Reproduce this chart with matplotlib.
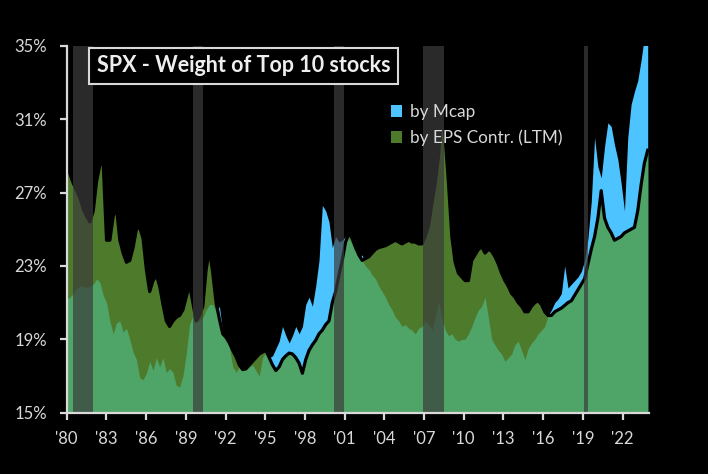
import numpy as np
import matplotlib
matplotlib.use("Agg")
import matplotlib.pyplot as plt
from matplotlib.patches import Patch

plt.rcParams['font.family'] = ['Lato', 'DejaVu Sans']

# quarterly observations, 1980 -> end of 2023
dates = np.linspace(1980.0, 2023.9, 176)

eps_weight = [
    28.7, 28.0, 27.5, 27.1, 26.7, 26.1, 25.7, 25.4,   # 1980-81
    26.0, 27.6, 28.5, 28.6, 24.4, 24.4, 25.7, 26.2,   # 1982-83
    24.4, 23.7, 23.2, 23.3, 24.0, 25.0, 25.1, 24.5,   # 1984-85
    22.8, 21.6, 22.2, 22.5, 21.9, 20.9, 20.0, 19.7,   # 1986-87
    20.0, 20.2, 20.3, 20.6, 21.3, 22.0, 21.0, 20.0,   # 1988-89
    20.3, 20.8, 22.8, 23.9, 22.6, 21.0, 20.1, 19.3,   # 1990-91
    19.1, 18.8, 18.4, 18.05, 17.6, 17.35, 17.4, 17.6, # 1992-93
    17.8, 18.0, 18.2, 18.3, 18.4, 18.0, 17.6, 17.3,   # 1994-95
    17.5, 17.9, 18.1, 18.25, 18.2, 18.0, 17.7, 17.15, # 1996-97
    17.9, 18.4, 18.7, 18.95, 19.3, 19.5, 19.8, 20.0,  # 1998-99
    21.0, 21.6, 22.5, 23.3, 24.3, 24.8, 24.5, 24.0,   # 2000-01
    23.6, 23.3, 23.4, 23.5, 23.7, 23.9, 24.0, 24.05,  # 2002-03
    24.1, 24.2, 24.3, 24.4, 24.3, 24.2, 24.3, 24.4,   # 2004-05
    24.3, 24.3, 24.2, 24.2, 24.6, 25.2, 26.4, 27.5,   # 2006-07
    29.0, 31.3, 30.0, 27.5, 24.6, 23.2, 22.6, 22.4,   # 2008-09
    22.2, 22.2, 23.3, 23.6, 23.9, 24.05, 23.7, 23.9,  # 2010-11
    23.8, 23.5, 23.1, 22.6, 22.2, 21.9, 21.5, 21.3,   # 2012-13
    21.0, 20.8, 20.5, 20.5, 20.8, 21.0, 21.1, 20.9,   # 2014-15
    20.5, 20.3, 20.3, 20.5, 20.6, 20.7, 20.85, 21.0,  # 2016-17
    21.1, 21.4, 21.7, 22.0, 22.3, 23.1, 23.9, 24.6,   # 2018-19
    25.6, 27.1, 25.6, 25.1, 24.8, 24.4, 24.5, 24.6,   # 2020-21
    24.8, 24.9, 25.0, 25.1, 26.0, 27.4, 28.6, 29.3,   # 2022-23
]

mcap_weight = [
    21.2, 21.3, 21.5, 21.8, 21.9, 21.9, 21.8, 21.9,   # 1980-81
    22.0, 22.3, 22.1, 21.4, 21.0, 20.0, 19.3, 19.9,   # 1982-83
    20.0, 19.4, 19.6, 19.0, 18.3, 17.9, 16.9, 16.8,   # 1984-85
    17.15, 17.8, 17.3, 18.0, 17.5, 18.0, 17.2, 17.4,  # 1986-87
    17.2, 16.5, 16.4, 17.0, 18.2, 19.8, 20.3, 20.0,   # 1988-89
    20.0, 20.2, 20.6, 20.9, 20.9, 20.5, 20.8, 19.3,   # 1990-91
    19.0, 18.6, 17.5, 17.2, 17.5, 17.3, 17.3, 17.5,   # 1992-93
    17.6, 17.3, 17.0, 18.0, 18.3, 18.0, 18.1, 18.5,   # 1994-95
    18.9, 19.7, 19.2, 18.8, 19.2, 19.7, 19.3, 19.7,   # 1996-97
    20.9, 21.3, 20.8, 21.9, 23.3, 26.3, 26.0, 25.4,   # 1998-99
    24.0, 24.6, 24.3, 24.4, 24.6, 24.5, 24.2, 23.8,   # 2000-01
    23.4, 23.6, 23.0, 22.8, 22.5, 22.3, 21.9, 21.6,   # 2002-03
    21.3, 20.9, 20.6, 20.2, 20.0, 19.7, 19.8, 19.6,   # 2004-05
    19.5, 19.3, 19.6, 19.7, 20.0, 19.8, 19.5, 20.2,   # 2006-07
    21.0, 20.2, 19.5, 19.2, 19.3, 19.0, 18.9, 19.0,   # 2008-09
    19.0, 19.3, 19.7, 20.2, 20.6, 20.8, 21.3, 20.2,   # 2010-11
    19.0, 18.7, 18.4, 18.2, 17.8, 18.0, 18.2, 18.7,   # 2012-13
    18.9, 18.4, 17.9, 18.5, 18.8, 19.0, 19.3, 19.5,   # 2014-15
    19.7, 20.3, 20.6, 21.0, 21.2, 21.5, 23.0, 21.8,   # 2016-17
    22.0, 22.2, 22.4, 22.7, 23.3, 24.5, 26.5, 30.0,   # 2018-19
    28.4, 27.8, 29.5, 30.8, 30.6, 29.6, 28.8, 27.5,   # 2020-21
    26.0, 30.0, 31.8, 32.5, 33.1, 34.2, 35.5, 36.0,   # 2022-23
]

recessions = [(1980.5, 1981.97), (1989.52, 1990.28), (2000.23, 2000.96),
              (2006.95, 2008.54), (2019.12, 2019.38)]

x_ticks = list(range(1980, 2023, 3))
x_labels = ["'80", "'83", "'86", "'89", "'92", "'95", "'98", "'01", "'04",
            "'07", "'10", "'13", "'16", "'19", "'22"]
y_ticks = [15, 19, 23, 27, 31, 35]

title = "SPX - Weight of Top 10 stocks"
series_labels = ["by Mcap", "by EPS Contr. (LTM)"]

BLUE = "#4dc3ff"
OLIVE = "#4e7a2b"
LGREEN = "#4fa468"
TXT = "#d9d9d9"

eps = np.array(eps_weight)
mcap = np.array(mcap_weight)

fig = plt.figure(figsize=(7.08, 4.74), dpi=100, facecolor="black")
ax = fig.add_axes([0.0942, 0.1293, 0.8225, 0.7743])
ax.set_facecolor("black")

ax.fill_between(dates, 15, mcap, color=BLUE, lw=0, zorder=1)
ax.fill_between(dates, 15, eps, color=OLIVE, lw=0, zorder=2)
ax.fill_between(dates, 15, np.minimum(mcap, eps), color=LGREEN, lw=0, zorder=3)
ax.plot(dates, eps, color="black", lw=2.3, zorder=4, solid_joinstyle="round")

for a, b in recessions:
    ax.axvspan(a, b, color="#3c3c3c", alpha=0.7, lw=0, zorder=5)

ax.set_xlim(1980, 2024)
ax.set_ylim(15, 35)
ax.set_xticks(x_ticks)
ax.set_xticklabels(x_labels)
ax.set_yticks(y_ticks)
ax.set_yticklabels([f"{v}%" for v in y_ticks])

for s in ["top", "right"]:
    ax.spines[s].set_visible(False)
for s in ["left", "bottom"]:
    ax.spines[s].set_color(TXT)
    ax.spines[s].set_linewidth(1.6)
    ax.spines[s].set_zorder(6)
ax.tick_params(axis="both", colors=TXT, labelcolor=TXT, labelsize=12,
               direction="out", length=5, width=1.6)
ax.tick_params(axis="x", pad=8)
ax.tick_params(axis="y", pad=9)

ax.text(0.0515, 0.9447, title, transform=ax.transAxes, ha="left", va="center",
        color="#eeeeee", fontsize=15.5, fontweight="bold", zorder=7,
        bbox=dict(boxstyle="square,pad=0.35", facecolor="black",
                  edgecolor=TXT, linewidth=1.5))

handles = [Patch(facecolor=BLUE, edgecolor="none", label=series_labels[0]),
           Patch(facecolor=OLIVE, edgecolor="none", label=series_labels[1])]
leg = ax.legend(handles=handles, loc="upper left", bbox_to_anchor=(0.545, 0.86),
                frameon=False, fontsize=12.3, handlelength=0.65, handleheight=0.65,
                handletextpad=0.45, labelspacing=0.55, borderaxespad=0)
for t in leg.get_texts():
    t.set_color(TXT)

fig.savefig("out.png", dpi=100, facecolor="black")
